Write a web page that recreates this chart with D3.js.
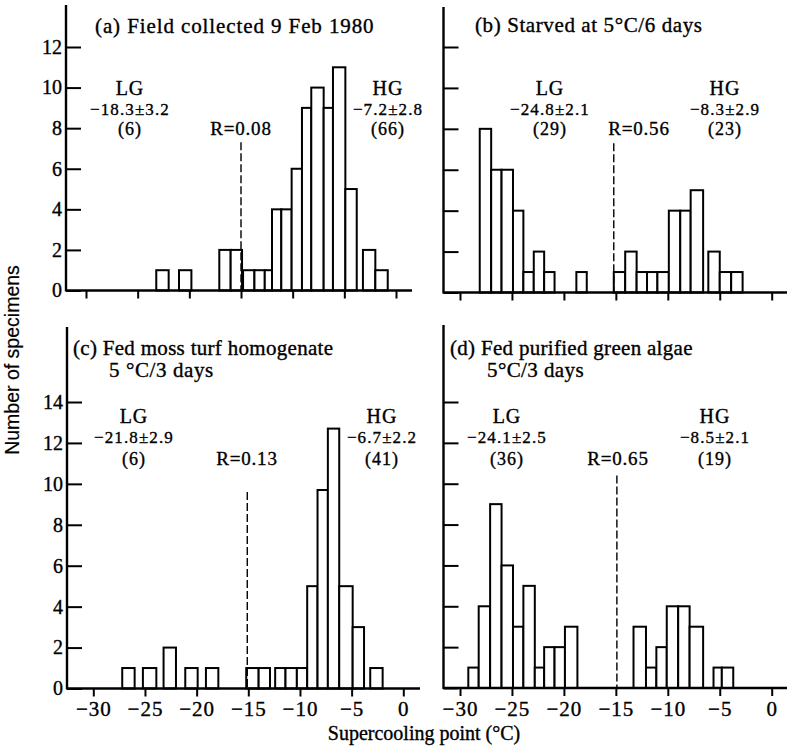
<!DOCTYPE html>
<html>
<head>
<meta charset="utf-8">
<script src="https://cdn.jsdelivr.net/npm/d3@7"></script>
<style>
body{margin:0;background:#fff}
svg text{font-family:"Liberation Serif","Times New Roman",serif;fill:#000;stroke:#000;stroke-width:0.35px}
</style>
</head>
<body>
<svg id="chart" width="787" height="747"></svg>
<script>
var xTicks=[-30,-25,-20,-15,-10,-5,0];
var yTicksTop=[0,2,4,6,8,10,12];
var yTicksBottom=[0,2,4,6,8,10,12,14];

// each bar: [from °C, to °C, number of specimens]
var binsA=[[-23.2,-22.0,1],[-21.0,-19.8,1],[-17.1,-16.0,2],[-16.0,-14.9,2],[-14.8,-13.7,1],[-13.7,-12.7,1],
  [-12.7,-12.0,1],[-12.0,-11.1,4],[-11.1,-10.1,4],[-10.1,-9.1,6],[-9.1,-8.2,9],[-8.2,-7.0,10],[-7.0,-6.1,9],
  [-6.1,-4.9,11],[-4.9,-3.8,5],[-3.2,-2.0,2],[-2.0,-0.8,1]];
var binsB=[[-28.1,-27.0,8],[-27.0,-26.0,6],[-26.0,-24.9,6],[-24.9,-23.9,4],[-23.9,-22.9,1],[-22.9,-21.9,2],
  [-21.9,-20.9,1],[-18.8,-17.8,1],[-15.2,-14.1,1],[-14.1,-13.0,2],[-13.0,-12.0,1],[-12.0,-11.0,1],[-11.0,-9.9,1],
  [-9.9,-8.8,4],[-8.8,-7.8,4],[-7.8,-6.6,5],[-6.1,-5.0,2],[-5.0,-3.9,1],[-3.9,-2.8,1]];
var binsC=[[-27.2,-26.0,1],[-25.2,-23.9,1],[-23.2,-22.0,2],[-21.1,-19.9,1],[-19.1,-17.9,1],[-15.2,-14.0,1],
  [-14.0,-12.9,1],[-12.4,-11.4,1],[-11.4,-10.3,1],[-10.3,-9.3,1],[-9.3,-8.3,5],[-8.3,-7.3,9.7],[-7.3,-6.2,12.7],
  [-6.2,-4.9,5],[-4.9,-3.8,3],[-3.2,-2.0,1]];
var binsD=[[-29.2,-28.2,1],[-28.2,-27.1,4],[-27.1,-26.0,9],[-26.0,-24.9,6],[-24.9,-23.9,3],[-23.9,-22.8,5],
  [-22.8,-21.9,1],[-21.9,-20.9,2],[-20.9,-19.9,2],[-19.9,-18.7,3],[-13.3,-12.1,3],[-12.1,-11.1,1],[-11.1,-10.1,2],
  [-10.1,-9.0,4],[-9.0,-7.9,4],[-7.9,-6.6,3],[-5.6,-4.8,1],[-4.8,-3.7,1]];

var titles=[["(a)  Field collected 9 Feb 1980"],["(b)  Starved at 5°C/6 days"],
  ["(c)  Fed moss turf homogenate","5 °C/3 days"],["(d)  Fed purified green algae","5°C/3 days"]];
var lgMean=["\u221218.3\u00b13.2","\u221224.8\u00b12.1","\u221221.8\u00b12.9","\u221224.1\u00b12.5"];
var lgN=["(6)","(29)","(6)","(36)"];
var hgMean=["\u22127.2\u00b12.8","\u22128.3\u00b12.9","\u22126.7\u00b12.2","\u22128.5\u00b12.1"];
var hgN=["(66)","(23)","(41)","(19)"];
var rText=["R=0.08","R=0.56","R=0.13","R=0.65"];
var cutAt=[-15,-15.2,-15.1,-14.9];   // dashed separator, °C
var cutTop=[7.3,7.3,9.6,10.4];       // its height in specimens

// page layout of the four panels
var panels=[
  {bins:binsA,ax:66,top:5,base:290.5,topTick:47,yTicks:yTicksTop,x0:86,x1:396,end:412,yLab:true,xLab:false,
   tx:[95,0],ty:[33,0],ls:[0.9,0],lgX:130,hgX:388,rX:241,rowY:[95,115,135]},
  {bins:binsB,ax:443.5,top:7,base:292.5,topTick:47,yTicks:yTicksTop,x0:460,x1:771.7,end:787,yLab:false,xLab:false,
   tx:[475,0],ty:[32,0],ls:[0.6,0],lgX:550,hgX:725,rX:639,rowY:[95,115,135]},
  {bins:binsC,ax:67,top:327,base:688.5,topTick:402,yTicks:yTicksBottom,x0:93.3,x1:403.3,end:420,yLab:true,xLab:true,
   tx:[73,109],ty:[355,377],ls:[0.3,0.6],lgX:134,hgX:382,rX:247,rowY:[423,443,465]},
  {bins:binsD,ax:443.5,top:325,base:688,topTick:402,yTicks:yTicksBottom,x0:460,x1:771.7,end:787,yLab:false,xLab:true,
   tx:[450,487],ty:[355,377],ls:[0.3,0.4],lgX:507,hgX:715,rX:618,rowY:[423,443,465]}
];

var svg=d3.select("#chart");
var minus=function(d){ return d<0 ? "\u2212"+(-d) : ""+d; };

panels.forEach(function(p,i){
  var g=svg.append("g");
  var x=d3.scaleLinear().domain([-30,0]).range([p.x0,p.x1]);
  var ymax=p.yTicks[p.yTicks.length-1];
  var y=d3.scaleLinear().domain([0,ymax]).range([p.base,p.topTick]);

  // bars
  g.selectAll("rect.bar").data(p.bins).enter().append("rect")
    .attr("class","bar")
    .attr("x",function(d){ return x(d[0]); })
    .attr("width",function(d){ return x(d[1])-x(d[0]); })
    .attr("y",function(d){ return y(d[2]); })
    .attr("height",function(d){ return y(0)-y(d[2]); })
    .attr("fill","#fff").attr("stroke","#000").attr("stroke-width",2);

  // dashed cut line
  g.append("line")
    .attr("x1",x(cutAt[i])).attr("x2",x(cutAt[i]))
    .attr("y1",y(cutTop[i])).attr("y2",y(0))
    .attr("stroke","#000").attr("stroke-width",1.4).attr("stroke-dasharray","8,3");

  // y axis
  var ya=g.append("g").attr("transform","translate("+p.ax+",0)")
    .call(d3.axisLeft(y).tickValues(p.yTicks).tickSizeInner(-15).tickSizeOuter(0).tickPadding(4));
  ya.select(".domain").remove();
  ya.selectAll(".tick line").attr("stroke","#000").attr("stroke-width",2);
  ya.selectAll("text").attr("font-size",20).attr("font-family","Liberation Serif").attr("fill","#000");
  if(!p.yLab) ya.selectAll("text").remove();

  // x axis
  var xa=g.append("g").attr("transform","translate(0,"+p.base+")")
    .call(d3.axisBottom(x).tickValues(xTicks).tickSize(8).tickPadding(4).tickFormat(minus));
  xa.select(".domain").remove();
  xa.selectAll(".tick line").attr("stroke","#000").attr("stroke-width",2);
  xa.selectAll("text").attr("font-size",21).attr("font-family","Liberation Serif").attr("fill","#000")
    .attr("dy","0.75em").style("letter-spacing","1px");
  if(!p.xLab) xa.selectAll("text").remove();

  g.append("line").attr("x1",p.ax).attr("x2",p.ax).attr("y1",p.top).attr("y2",p.base+1)
    .attr("stroke","#000").attr("stroke-width",2.4);
  g.append("line").attr("x1",p.ax).attr("x2",p.end).attr("y1",p.base).attr("y2",p.base)
    .attr("stroke","#000").attr("stroke-width",2.4);

  // titles
  titles[i].forEach(function(t,k){
    g.append("text").attr("x",p.tx[k]).attr("y",p.ty[k])
      .attr("font-size",21).style("letter-spacing",p.ls[k]+"px").text(t);
  });

  // group labels
  [[p.lgX,"LG",lgMean[i],lgN[i]],[p.hgX,"HG",hgMean[i],hgN[i]]].forEach(function(L){
    g.append("text").attr("x",L[0]).attr("y",p.rowY[0]).attr("text-anchor","middle")
      .attr("font-size",20).style("letter-spacing","1px").text(L[1]);
    g.append("text").attr("x",L[0]).attr("y",p.rowY[1]).attr("text-anchor","middle")
      .attr("font-size",17).style("letter-spacing","1.1px").text(L[2]);
    g.append("text").attr("x",L[0]).attr("y",p.rowY[2]).attr("text-anchor","middle")
      .attr("font-size",18).style("letter-spacing","1px").text(L[3]);
  });
  g.append("text").attr("x",p.rX).attr("y",p.rowY[2]).attr("text-anchor","middle")
    .attr("font-size",19).style("letter-spacing","0.8px").text(rText[i]);
});

svg.append("text").attr("x",424).attr("y",740).attr("text-anchor","middle")
  .attr("font-size",20).text("Supercooling point (°C)");
svg.append("text").attr("transform","translate(19,360) rotate(-90)").attr("text-anchor","middle")
  .attr("font-size",19.5).style("font-family","'Liberation Sans',Arial,sans-serif").style("stroke-width","0.2px")
  .text("Number of specimens");
</script>
</body>
</html>
